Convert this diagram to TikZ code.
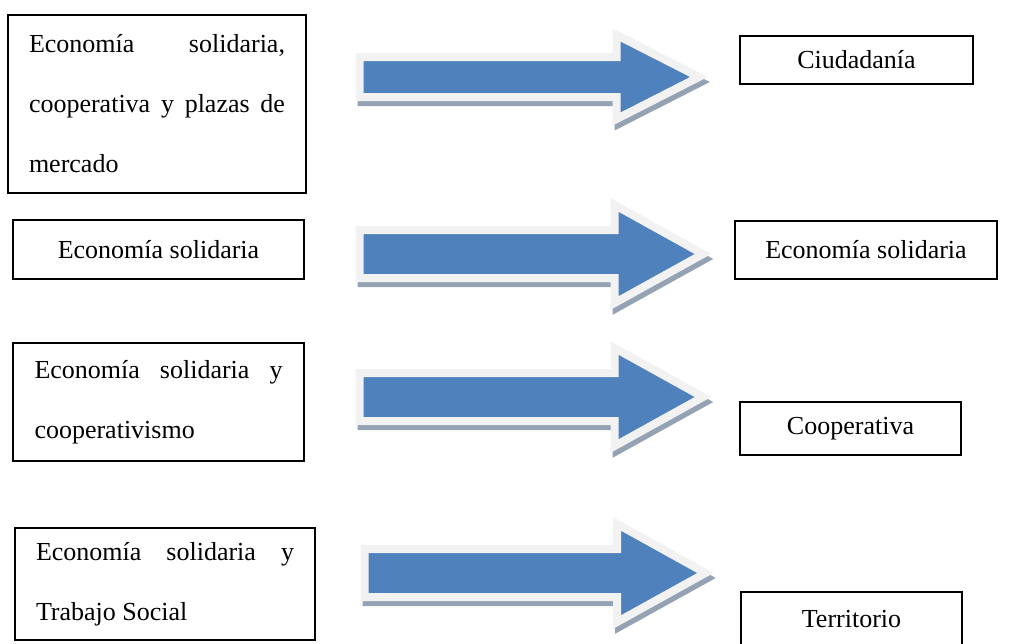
\documentclass[tikz,border=0pt]{standalone}
\usepackage{fontspec}
\setmainfont{Liberation Serif}
\usetikzlibrary{shapes.arrows,shadows}
\definecolor{azul}{HTML}{4F81BD}
\definecolor{borde}{HTML}{F2F2F2}
\definecolor{sombra}{HTML}{95A2B3}
\begin{document}
\begin{tikzpicture}[x=1pt,y=-1pt]
	\tikzstyle{every node}=[font=\fontsize{26pt}{60pt}\selectfont]
	\tikzstyle{caja}=[draw, line width=1.6pt, inner xsep=0pt, inner ysep=0pt]
	\tikzstyle{flecha}=[single arrow, fill=azul, draw=borde, line width=8pt, inner xsep=0pt, inner ysep=20pt, anchor=tail, single arrow head extend=25pt, single arrow tip angle=58, drop shadow={shadow xshift=2pt, shadow yshift=-5pt, fill=sombra, draw=sombra, line width=8pt, opacity=1}]
	\useasboundingbox (0,0) rectangle (1012,643);
	\node[caja, minimum width=298pt, minimum height=178pt, text width=256pt, align=justify] (E1) at (157,104) {Economía solidaria,\linebreak cooperativa y plazas de\linebreak mercado};
	\node[caja, minimum width=291pt, minimum height=59pt] (E2) at (158.5,249.5) {Economía solidaria};
	\node[caja, minimum width=291pt, minimum height=118pt, text width=248pt, align=justify] (E3) at (158.5,402) {Economía solidaria y\linebreak cooperativismo};
	\node[caja, minimum width=300pt, minimum height=112pt, text width=258pt, align=justify] (E4) at (165,584) {Economía solidaria y\linebreak Trabajo Social};
	\node[caja, minimum width=233pt, minimum height=48pt] (S1) at (856.5,60) {Ciudadanía};
	\node[caja, minimum width=262pt, minimum height=58pt] (S2) at (866,250) {Economía solidaria};
	\node[caja, minimum width=221pt, minimum height=53pt] (S3) at (850.5,428.5) {Cooperativa};
	\node[caja, minimum width=221pt, minimum height=54pt] (S4) at (851.5,619) {Territorio};
	\node[flecha, minimum height=339.5pt, inner ysep=16pt, single arrow head extend=22pt, single arrow tip angle=54] (F1) at (355.5,77) {};
	\node[flecha, minimum height=343.5pt] (F2) at (355.5,254) {};
	\node[flecha, minimum height=343.5pt] (F3) at (355.5,397) {};
	\node[flecha, minimum height=341pt] (F4) at (360.5,573) {};
\end{tikzpicture}
\end{document}
